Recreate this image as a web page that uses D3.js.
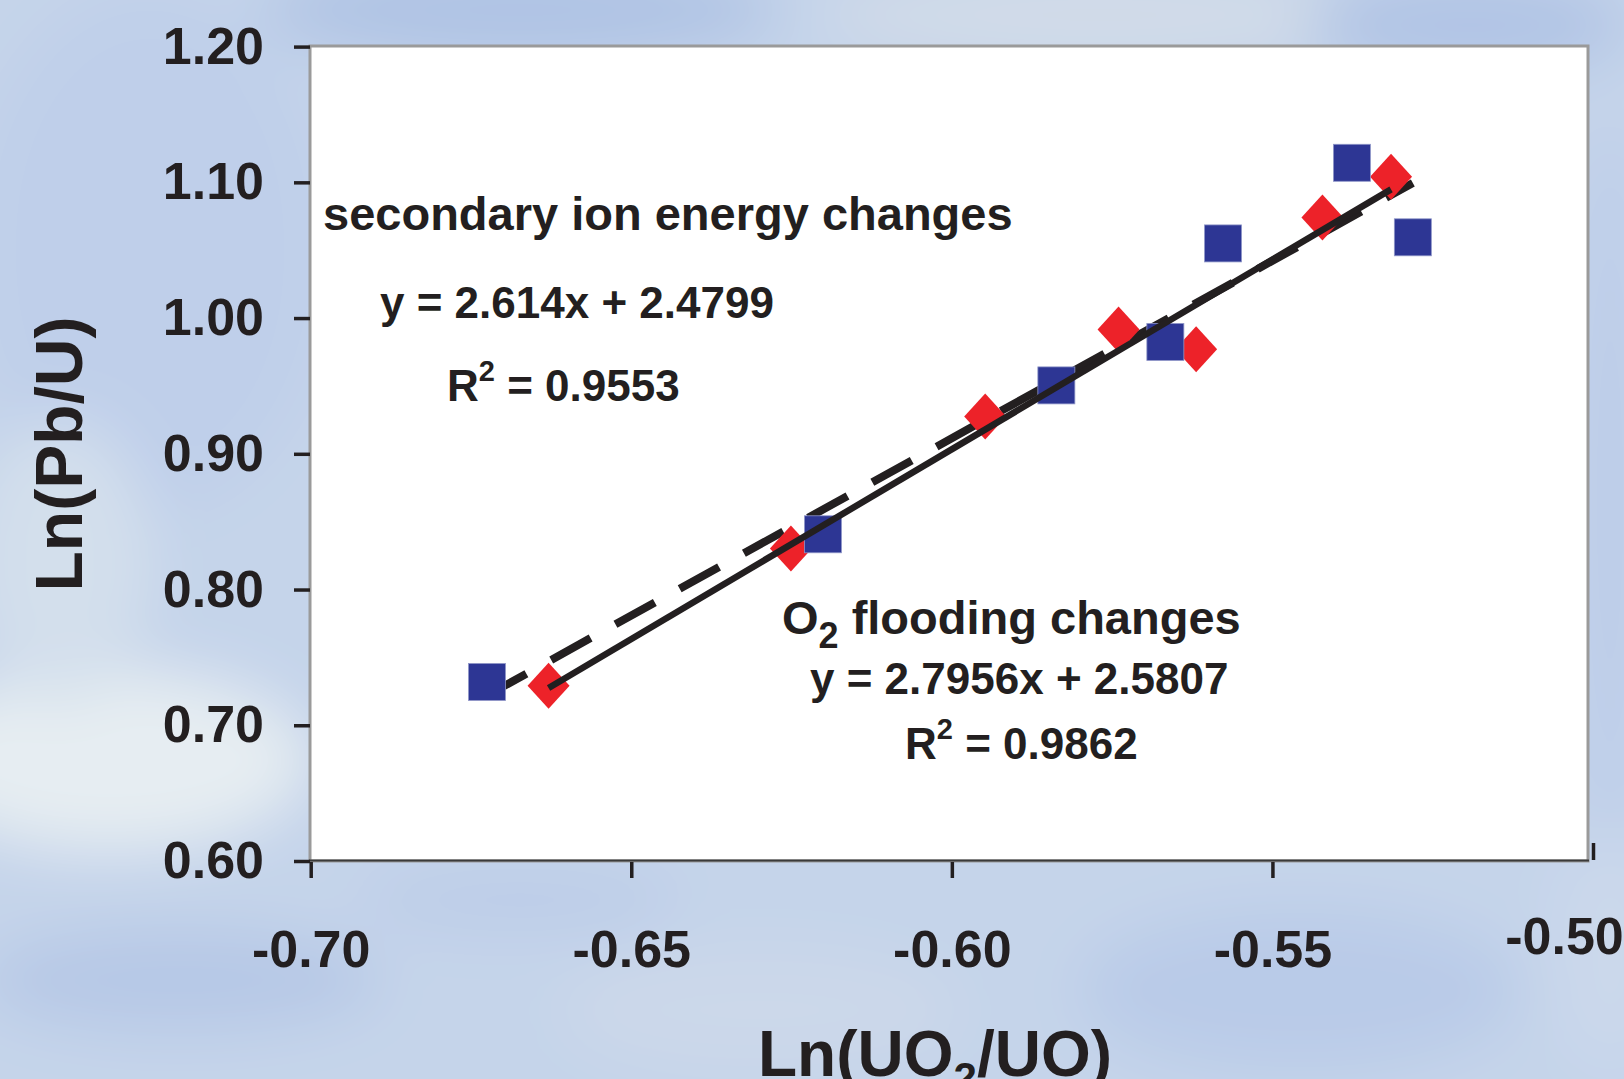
<!DOCTYPE html>
<html>
<head>
<meta charset="utf-8">
<title>Ln(Pb/U) vs Ln(UO2/UO)</title>
<script src="https://cdn.jsdelivr.net/npm/d3@7"></script>
<style>
  html, body { margin: 0; padding: 0; background: #c7d5ea; }
  svg { display: block; font-family: "Liberation Sans", Arial, Helvetica, sans-serif; font-weight: bold; }
</style>
</head>
<body>
<svg id="chart" width="1624" height="1079"></svg>
<script>
// secondary ion energy changes (blue squares, dashed fit)
const energyX = [-0.6725, -0.6201, -0.5837, -0.5667, -0.5577, -0.5376, -0.5281];
const energyY = [0.7319, 0.8407, 0.9504, 0.9824, 1.0550, 1.1144, 1.0595];
// O2 flooding changes (red diamonds, solid fit)
const floodX = [-0.6629, -0.6251, -0.5948, -0.5740, -0.5619, -0.5422, -0.5315];
const floodY = [0.7291, 0.8303, 0.9275, 0.9916, 0.9771, 1.0740, 1.1042];
// fits printed on the chart: slope, intercept
const energyFit = [2.614, 2.4799];
const floodFit = [2.7956, 2.5807];

const xTicks = [-0.70, -0.65, -0.60, -0.55, -0.50];
const yTicks = [0.60, 0.70, 0.80, 0.90, 1.00, 1.10, 1.20];

const width = 1624, height = 1079;
const ink = '#231f20';

const svg = d3.select('#chart').attr('viewBox', [0, 0, width, height]);

const x = d3.scaleLinear([-0.70, -0.50], [310.7, 1593]);
const y = d3.scaleLinear([0.60, 1.20], [861, 46.6]);

//watercolour-ish background
const defs = svg.append('defs');
defs.append('filter')
  .attr('id', 'soft')
  .attr('x', '-20%').attr('y', '-20%').attr('width', '140%').attr('height', '140%')
  .append('feGaussianBlur')
  .attr('stdDeviation', 30);

const wash = svg.append('g').attr('filter', 'url(#soft)');
wash.append('rect').attr('x', -100).attr('y', -100)
  .attr('width', width + 200).attr('height', height + 200).attr('fill', '#c5d4ea');
[
  [150, 250, 180, 260, '#bfcfea'],
  [520, 10, 260, 50, '#afc3e4'],
  [1100, 15, 280, 45, '#d1dbe8'],
  [1470, 25, 160, 50, '#b1c4e5'],
  [110, 760, 200, 90, '#e6edf2'],
  [60, 560, 90, 140, '#d3dfec'],
  [180, 980, 200, 50, '#b6c8e6'],
  [520, 900, 160, 30, '#bccce8'],
  [760, 1010, 200, 60, '#ccd8ea'],
  [1300, 990, 220, 80, '#b9cbe8'],
  [1610, 500, 40, 380, '#bdcde9'],
  [1610, 950, 60, 120, '#cbd8eb']
].forEach(([cx, cy, rx, ry, c]) => {
  wash.append('ellipse').attr('cx', cx).attr('cy', cy)
    .attr('rx', rx).attr('ry', ry).attr('fill', c);
});

//plot area
svg.append('rect')
  .attr('x', 310).attr('y', 46)
  .attr('width', 1278).attr('height', 815)
  .attr('fill', '#fff')
  .attr('stroke', '#9a9a9a')
  .attr('stroke-width', 3);

svg.append('line')
  .attr('x1', 309).attr('x2', 1589)
  .attr('y1', 860.5).attr('y2', 860.5)
  .attr('stroke', '#3a3a3a')
  .attr('stroke-width', 2);

//axes
const xAxis = svg.append('g')
  .attr('transform', 'translate(0,862)')
  .call(d3.axisBottom(x).tickValues(xTicks).tickSize(16).tickPadding(52)
    .tickFormat(d => d.toFixed(2)));

const yAxis = svg.append('g')
  .attr('transform', 'translate(310,0)')
  .call(d3.axisLeft(y).tickValues(yTicks).tickSize(16).tickPadding(30)
    .tickFormat(d => d.toFixed(2)));

[xAxis, yAxis].forEach(g => {
  g.select('.domain').remove();
  g.selectAll('.tick line').attr('stroke', ink).attr('stroke-width', 3.5);
  g.selectAll('.tick text')
    .attr('fill', ink)
    .style('font-size', '52px')
    .style('font-weight', 'bold');
});

// the last x tick sits inside the frame and its label is nudged, as in the source
xAxis.selectAll('.tick').filter(d => d === -0.50)
  .call(t => t.select('line').attr('y1', -2).attr('y2', -19))
  .call(t => t.select('text').attr('transform', 'translate(-29,-13)'));

//axis titles
svg.append('text')
  .attr('transform', 'translate(82,454) rotate(-90)')
  .attr('text-anchor', 'middle')
  .attr('fill', ink)
  .style('font-size', '66px')
  .text('Ln(Pb/U)');

const xt = svg.append('text')
  .attr('x', 935).attr('y', 1076)
  .attr('text-anchor', 'middle')
  .attr('fill', ink)
  .style('font-size', '64px');
xt.append('tspan').text('Ln(UO');
xt.append('tspan').attr('dy', 16).style('font-size', '42px').text('2');
xt.append('tspan').attr('dy', -16).text('/UO)');

//fit lines
const fitLine = (fit, xs) => {
  const ext = d3.extent(xs);
  return ext.map(v => [x(v), y(fit[0] * v + fit[1])]);
};
const line = d3.line();

svg.append('path')
  .attr('d', line(fitLine(energyFit, energyX)))
  .attr('fill', 'none')
  .attr('stroke', ink)
  .attr('stroke-width', 8)
  .attr('stroke-dasharray', '45,28.4');

//markers
const energy = energyX.map((v, i) => [v, energyY[i]]);
const flood = floodX.map((v, i) => [v, floodY[i]]);

svg.append('g')
  .attr('fill', '#ed2229')
  .selectAll('path')
  .data(flood)
  .join('path')
  .attr('transform', d => `translate(${x(d[0])},${y(d[1])})`)
  .attr('d', 'M0,-23L21,0L0,23L-21,0Z');

svg.append('g')
  .attr('fill', '#2d3694')
  .attr('stroke', '#8f96c8')
  .attr('stroke-width', 0.8)
  .selectAll('rect')
  .data(energy)
  .join('rect')
  .attr('x', d => x(d[0]) - 18.5)
  .attr('y', d => y(d[1]) - 18.5)
  .attr('width', 37)
  .attr('height', 37);

svg.append('path')
  .attr('d', line(fitLine(floodFit, floodX)))
  .attr('fill', 'none')
  .attr('stroke', ink)
  .attr('stroke-width', 6.5);

//annotations
const note = (tx, ty, size) => svg.append('text')
  .attr('x', tx).attr('y', ty)
  .attr('fill', ink)
  .style('font-size', size + 'px');

note(323, 230, 47).text('secondary ion energy changes');
note(380, 318, 44).text('y = 2.614x + 2.4799');
const r1 = note(447, 401, 44);
r1.append('tspan').text('R');
r1.append('tspan').attr('dy', -20).style('font-size', '29px').text('2');
r1.append('tspan').attr('dy', 20).text(' = 0.9553');

const o2 = note(782, 634, 47);
o2.append('tspan').text('O');
o2.append('tspan').attr('dy', 14).style('font-size', '36px').text('2');
o2.append('tspan').attr('dy', -14).text(' flooding changes');
note(810, 694, 44).text('y = 2.7956x + 2.5807');
const r2 = note(905, 759, 44);
r2.append('tspan').text('R');
r2.append('tspan').attr('dy', -20).style('font-size', '29px').text('2');
r2.append('tspan').attr('dy', 20).text(' = 0.9862');
</script>
</body>
</html>
